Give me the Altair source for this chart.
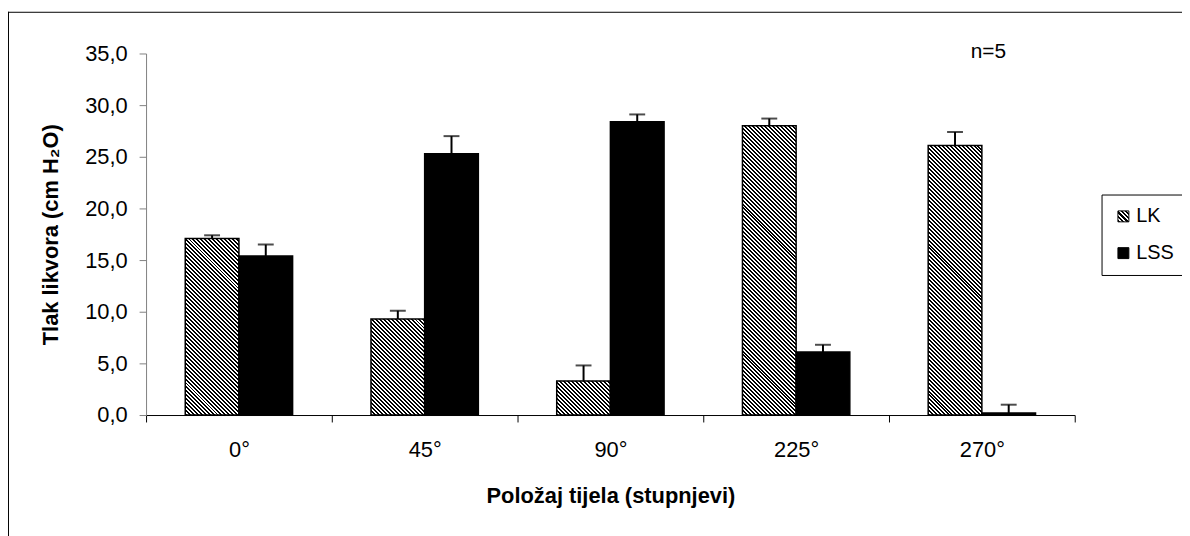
import altair as alt

# ---------------- data ----------------
positions = ["0°", "45°", "90°", "225°", "270°"]
series = ["LK", "LSS"]
lk_mean = [17.1, 9.3, 3.3, 28.0, 26.1]
lk_err = [0.3, 0.8, 1.5, 0.7, 1.3]
lss_mean = [15.4, 25.3, 28.4, 6.1, 0.2]
lss_err = [1.1, 1.7, 0.7, 0.7, 0.8]
y_ticks = [0, 5, 10, 15, 20, 25, 30, 35]

# ---------------- layout ----------------
W, H = 935, 364
Y_MAX = 35
OUTER = 0.73
bar_w = (W / len(positions)) / (2 + 2 * OUTER)
FONT = "Liberation Sans"


def stripe_stops(n):
    out = []
    for i in range(n):
        a, b, c = i / n, (i + 0.5) / n, (i + 1) / n
        out += [
            {"offset": round(a, 5), "color": "black"},
            {"offset": round(b, 5), "color": "black"},
            {"offset": round(b, 5), "color": "white"},
            {"offset": round(c, 5), "color": "white"},
        ]
    return out


# diagonal hatch as a striped linear gradient (45 deg in pixel space)
L = 400.0
PERIOD = 4.0
stops = stripe_stops(int(L / PERIOD))


def hatch(v):
    h = max(v / Y_MAX * H, 1e-3)
    d = bar_w ** 2 + h ** 2
    return {"gradient": "linear", "x1": 0, "y1": 1,
            "x2": L * bar_w / d, "y2": 1 - L * h / d, "stops": stops}


# hatch for the small square legend symbol, as a Vega expression
sym_stops = ",".join(
    "{offset: %s, color: '%s'}" % (s["offset"], s["color"]) for s in stripe_stops(5)
)
legend_hatch = "{gradient: 'linear', x1: 0, y1: 1, x2: 1, y2: 0, stops: [%s]}" % sym_stops

rows = []
for i, p in enumerate(positions):
    rows.append({"position": p, "series": "LK", "mean": lk_mean[i],
                 "hi": lk_mean[i] + lk_err[i], "pattern": hatch(lk_mean[i])})
    rows.append({"position": p, "series": "LSS", "mean": lss_mean[i],
                 "hi": lss_mean[i] + lss_err[i], "pattern": "black"})
data = alt.Data(values=rows)
one = alt.Data(values=[{"k": 0}])

y_scale = alt.Scale(domain=[0, Y_MAX], nice=False, zero=True)
y_axis = alt.Axis(
    values=y_ticks,
    labelExpr="replace(format(datum.value, '.1f'), '.', ',')",
    title="Tlak likvora (cm H₂O)",
    titleFontSize=22, titleFontWeight="bold", titlePadding=22,
    labelFontSize=22, labelPadding=12,
    tickSize=7, tickColor="#808080", domainColor="#808080",
    grid=False,
)
x_enc = alt.X(
    "position:N", sort=positions,
    scale=alt.Scale(paddingInner=0, paddingOuter=0),
    axis=alt.Axis(
        title="Položaj tijela (stupnjevi)", labelAngle=0, tickBand="extent",
        tickSize=7, tickColor="black", domainColor="black",
        labelFontSize=22, labelPadding=18,
        titleFontSize=22, titleFontWeight="bold", titlePadding=25,
    ),
)
xoff_enc = alt.XOffset("series:N", sort=series,
                       scale=alt.Scale(paddingInner=0, paddingOuter=OUTER))

base = alt.Chart(data).encode(x=x_enc, xOffset=xoff_enc)

bars = base.mark_bar(stroke="black", strokeWidth=1.5).encode(
    y=alt.Y("mean:Q", stack=None, scale=y_scale, axis=y_axis),
    fill=alt.Fill("pattern:N", scale=None),
)
err_rule = base.mark_rule(color="black", strokeWidth=2).encode(
    y=alt.Y("mean:Q", scale=y_scale, axis=y_axis),
    y2="hi:Q",
)
err_cap = base.mark_tick(color="black", thickness=2, size=16).encode(
    y=alt.Y("hi:Q", scale=y_scale, axis=y_axis),
)

legend_layer = alt.Chart(data).mark_bar(stroke="black", strokeWidth=1).encode(
    color=alt.Color(
        "series:N",
        scale=alt.Scale(domain=series, range=[alt.ExprRef(expr=legend_hatch), "black"]),
        legend=alt.Legend(
            title=None, orient="none", legendX=962, legendY=142,
            padding=12, strokeColor="black", fillColor="white",
            labelFont=FONT, labelFontSize=20, labelColor="black",
            symbolType="square", symbolSize=121, symbolStrokeColor="black",
            symbolStrokeWidth=1, symbolOffset=0, labelOffset=3, rowPadding=17,
        ),
    )
).transform_filter("false")

note = alt.Chart(one).mark_text(
    text="n=5", font=FONT, fontSize=21, align="center", baseline="middle",
    color="black",
).encode(x=alt.value(848), y=alt.value(-1))

frame_left = alt.Chart(one).mark_rule(color="black", strokeWidth=1).encode(
    x=alt.value(-138.5), y=alt.value(-42), y2=alt.value(H + 130))
frame_top = alt.Chart(one).mark_rule(color="black", strokeWidth=1).encode(
    x=alt.value(-139), x2=alt.value(W + 200), y=alt.value(-41.5))

chart = alt.layer(
    bars, err_rule, err_cap, legend_layer, note, frame_left, frame_top
).properties(
    width=W, height=H,
    padding={"left": 139, "top": 44, "right": 108, "bottom": 120},
    autosize=alt.AutoSizeParams(type="none"),
).configure_view(stroke=None).configure_axis(
    labelFont=FONT, titleFont=FONT, labelColor="black", titleColor="black",
).configure_text(font=FONT)

chart.save("out.html", embed_options={"renderer": "svg", "actions": False})
